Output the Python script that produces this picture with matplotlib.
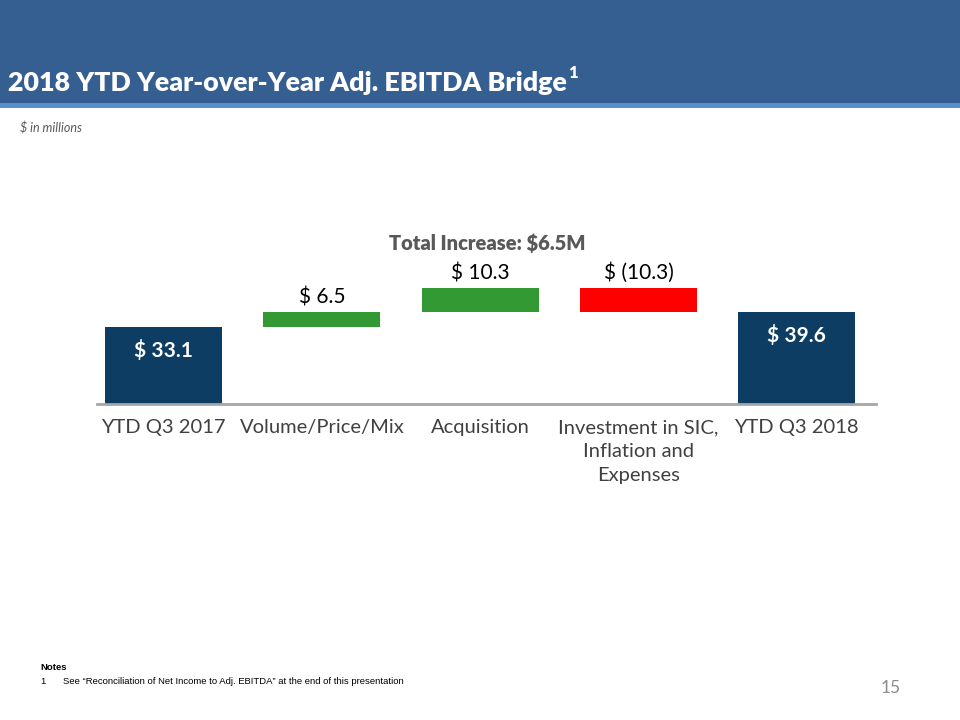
import matplotlib
matplotlib.use("Agg")
import matplotlib.pyplot as plt
from matplotlib.patches import Rectangle

categories = ["YTD Q3 2017", "Volume/Price/Mix", "Acquisition",
              "Investment in SIC,\nInflation and\nExpenses", "YTD Q3 2018"]
changes = [33.1, 6.5, 10.3, -10.3, 39.6]
is_total = [True, False, False, False, True]
labels = ["$ 33.1", "$ 6.5", "$ 10.3", "$ (10.3)", "$ 39.6"]

FONT = ["Lato", "DejaVu Sans"]
plt.rcParams['font.family'] = FONT

fig = plt.figure(figsize=(9.6, 7.2), dpi=100)
W, H = 960, 720

# header band
fig.patches.append(Rectangle((0, 1 - 103 / H), 1, 103 / H, transform=fig.transFigure,
                             facecolor="#365F91", edgecolor="none", zorder=0))
fig.patches.append(Rectangle((0, 1 - 108 / H), 1, 5 / H, transform=fig.transFigure,
                             facecolor="#5B8CCB", edgecolor="none", zorder=0))
title = fig.text(8 / W, 1 - 83 / H, "2018 YTD Year-over-Year Adj. EBITDA Bridge",
                 color="white", fontsize=19.3, fontweight="heavy", va="center", ha="left")
fig.canvas.draw()
bb = title.get_window_extent(renderer=fig.canvas.get_renderer())
fig.text((bb.x1 + 1) / W, 1 - 73 / H, "1", color="white", fontsize=12, fontweight="heavy",
         va="center", ha="left")
fig.text(20 / W, 1 - 128 / H, "$ in millions", color="#595959", fontsize=9,
         fontstyle="italic", va="center", ha="left")

# axes
left, right = 97, 876
base = 404
ax = fig.add_axes([left / W, (H - base) / H, (right - left) / W, 60 * 2.33 / H])
ax.set_xlim(-0.42, 4.50)
ax.set_ylim(0, 60)

colors = []
bottoms = []
heights = []
running = 0.0
for v, t in zip(changes, is_total):
    if t:
        bottoms.append(0)
        heights.append(v)
        running = v
        colors.append("#0E3D63")
    else:
        if v >= 0:
            bottoms.append(running)
            heights.append(v)
            colors.append("#339933")
        else:
            bottoms.append(running + v)
            heights.append(-v)
            colors.append("#FF0000")
        running += v

x = list(range(len(categories)))
ax.bar(x, heights, bottom=bottoms, width=0.74, color=colors, edgecolor="none")

for i in x:
    if is_total[i]:
        ax.text(i, bottoms[i] + heights[i] - 10.2, labels[i], ha="center", va="center",
                color="white", fontsize=15, fontweight="bold")
    else:
        ax.text(i, bottoms[i] + heights[i] + 2.0, labels[i], ha="center", va="bottom",
                color="#000000", fontsize=15)

ax.text(2.045, 69, "Total Increase: $6.5M", ha="center", va="center",
        color="#595959", fontsize=14.5, fontweight="heavy")

for s in ["top", "right", "left"]:
    ax.spines[s].set_visible(False)
ax.spines["bottom"].set_color("#A6A6A6")
ax.spines["bottom"].set_linewidth(2)
ax.set_yticks([])
ax.set_xticks(x)
ax.set_xticklabels(categories, fontsize=14.5, color="#404040", linespacing=1.5)
ax.tick_params(axis="x", length=0, pad=11)
for lbl in ax.get_xticklabels():
    lbl.set_verticalalignment("top")
    lbl.set_multialignment("center")

# notes
NF = ["Liberation Sans", "DejaVu Sans"]
fig.text(40 / W, 1 - 667 / H, "Notes", fontsize=6.8, fontweight="bold",
         family=NF, va="center", color="black")
fig.text(40 / W, 1 - 681 / H, "1", fontsize=6.8, family=NF, va="center", color="black")
fig.text(63 / W, 1 - 681 / H,
         "See \u201cReconciliation of Net Income to Adj. EBITDA\u201d at the end of this presentation",
         fontsize=6.8, family=NF, va="center", color="black")
fig.text(901 / W, 1 - 688 / H, "15", fontsize=12.5, color="#8C8C8C", ha="right", va="center")

fig.savefig("out.png", dpi=100)
